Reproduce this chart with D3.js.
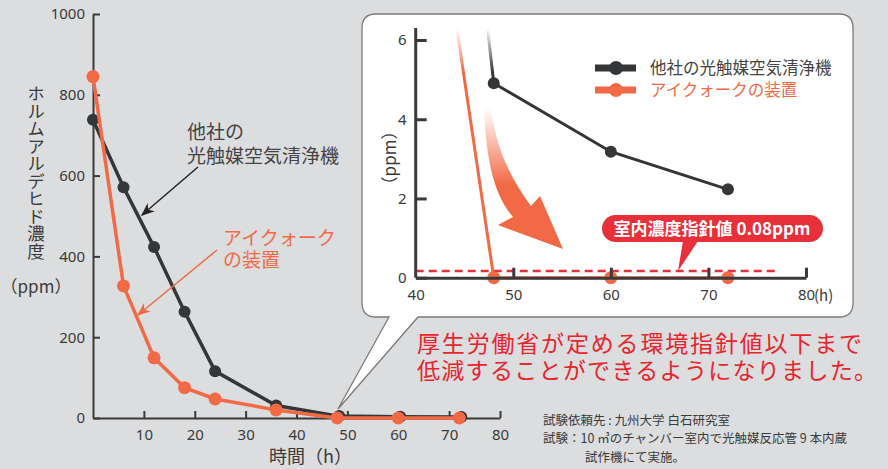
<!DOCTYPE html>
<html>
<head>
<meta charset="utf-8">
<script src="https://cdn.jsdelivr.net/npm/d3@7"></script>
<style>
  body { margin: 0; background: #dcdddf; }
  svg { display: block; font-family: "Noto Sans CJK JP", "Noto Sans", sans-serif; }
</style>
</head>
<body>
<div id="chart"></div>
<script>
// data
const hours = [0, 6, 12, 18, 24, 36, 48, 60, 72];
const otherValues = [738, 571, 423, 263, 116, 31, 4.91, 3.18, 2.23];
const aiqValues = [845, 327, 149, 75, 47, 20, 0, 0, 0];
const seriesNames = ["他社の光触媒空気清浄機", "アイクォークの装置"];
const mainXTicks = [10, 20, 30, 40, 50, 60, 70, 80];
const mainYTicks = [0, 200, 400, 600, 800, 1000];
const insetXTicks = [40, 50, 60, 70, 80];
const insetYTicks = [0, 2, 4, 6];
const guideLevel = 0.17;   // where the dashed line sits in the picture
const guideLabel = "室内濃度指針値 0.08ppm";
const headline = ["厚生労働省が定める環境指針値以下まで", "低減することができるようになりました。"];
const notes = ["試験依頼先 : 九州大学 白石研究室", "試験：10 ㎥のチャンバー室内で光触媒反応管 9 本内蔵", "試作機にて実施。"];

const width = 888, height = 469;
const darkColor = "#353638", orangeColor = "#f26a45", redColor = "#e8303a", textColor = "#3a3a3a";

const svg = d3.select("#chart").append("svg")
    .attr("width", width)
    .attr("height", height);

const defs = svg.append("defs");

const rows = hours.map((h, i) => ({ h: h, other: otherValues[i], aiq: aiqValues[i] }));

// callout box with tail (drawn first, behind the main lines)
const bx0 = 362, by0 = 14, bx1 = 853, by1 = 317, r = 14;
svg.append("path")
    .attr("d", `M${bx0 + r},${by0} H${bx1 - r} Q${bx1},${by0} ${bx1},${by0 + r} V${by1 - r} Q${bx1},${by1} ${bx1 - r},${by1}
        H418 L338,409 L389,${by1} H${bx0 + r} Q${bx0},${by1} ${bx0},${by1 - r} V${by0 + r} Q${bx0},${by0} ${bx0 + r},${by0} Z`)
    .attr("fill", "#fff")
    .attr("stroke", "#7a7a7a")
    .attr("stroke-width", 1.3);

// ---------- main chart ----------
const x = d3.scaleLinear().domain([0, 80]).range([93, 500]);
const y = d3.scaleLinear().domain([0, 1000]).range([418, 14]);

const xAxis = svg.append("g")
    .attr("transform", `translate(0,${y(0)})`)
    .call(d3.axisBottom(x).tickValues(mainXTicks).tickFormat(d3.format("d")).tickSize(-7).tickSizeOuter(0).tickPadding(11));
const yAxis = svg.append("g")
    .attr("transform", `translate(${x(0)},0)`)
    .call(d3.axisLeft(y).tickValues(mainYTicks).tickFormat(d3.format("d")).tickSize(-7).tickSizeOuter(0).tickPadding(8));
[xAxis, yAxis].forEach(g => {
    g.select(".domain").attr("stroke", textColor).attr("stroke-width", 2);
    g.selectAll(".tick line").attr("stroke", textColor).attr("stroke-width", 2);
    g.selectAll(".tick text").attr("fill", textColor).style("font-size", "15px").style("font-family", "'Noto Sans', sans-serif");
});

const mainLine = key => d3.line().x(d => x(d.h)).y(d => y(d[key]));

svg.append("path").datum(rows)
    .attr("fill", "none").attr("stroke", darkColor).attr("stroke-width", 3.5)
    .attr("d", mainLine("other"));
svg.selectAll(".dotOther").data(rows).enter().append("circle")
    .attr("cx", d => x(d.h) + (d.h >= 48 ? 2 : 0)).attr("cy", d => y(d.other)).attr("r", 6)
    .attr("fill", darkColor);

svg.append("path").datum(rows)
    .attr("fill", "none").attr("stroke", orangeColor).attr("stroke-width", 3.5)
    .attr("d", mainLine("aiq"));
svg.selectAll(".dotAiq").data(rows).enter().append("circle")
    .attr("cx", d => x(d.h)).attr("cy", d => y(d.aiq)).attr("r", 6.5)
    .attr("fill", orangeColor);

// axis titles
svg.append("text")
    .attr("x", 36).attr("y", 85)
    .style("writing-mode", "vertical-rl")
    .style("font-size", "17.5px")
    .attr("fill", textColor)
    .text("ホルムアルデヒド濃度");
svg.append("text")
    .attr("x", 36).attr("y", 293)
    .attr("text-anchor", "middle")
    .style("font-size", "17px")
    .attr("fill", textColor)
    .text("（ppm）");
svg.append("text")
    .attr("x", 269).attr("y", 463)
    .style("font-size", "18px")
    .attr("fill", textColor)
    .text("時間（h）");

// series labels with arrows
defs.append("marker").attr("id", "arrDark").attr("viewBox", "0 0 10 10").attr("refX", 9).attr("refY", 5)
    .attr("markerWidth", 9).attr("markerHeight", 9).attr("orient", "auto")
    .append("path").attr("d", "M0,1 L10,5 L0,9 L3,5 Z").attr("fill", "#222");
defs.append("marker").attr("id", "arrOrange").attr("viewBox", "0 0 10 10").attr("refX", 9).attr("refY", 5)
    .attr("markerWidth", 9).attr("markerHeight", 9).attr("orient", "auto")
    .append("path").attr("d", "M0,1 L10,5 L0,9 L3,5 Z").attr("fill", orangeColor);

svg.append("line").attr("x1", 198).attr("y1", 167).attr("x2", 142).attr("y2", 215)
    .attr("stroke", "#222").attr("stroke-width", 1.5).attr("marker-end", "url(#arrDark)");
svg.append("line").attr("x1", 217).attr("y1", 250).attr("x2", 138).attr("y2", 315)
    .attr("stroke", orangeColor).attr("stroke-width", 1.5).attr("marker-end", "url(#arrOrange)");

const darkLabel = svg.append("text").attr("fill", "#444").style("font-size", "19px");
darkLabel.append("tspan").attr("x", 187).attr("y", 139).text("他社の");
darkLabel.append("tspan").attr("x", 187).attr("y", 163).text("光触媒空気清浄機");
const orangeLabel = svg.append("text").attr("fill", orangeColor).style("font-size", "19px");
orangeLabel.append("tspan").attr("x", 223).attr("y", 245).text("アイクォーク");
orangeLabel.append("tspan").attr("x", 223).attr("y", 267).text("の装置");

// ---------- inset ----------
const xi = d3.scaleLinear().domain([40, 80]).range([415.7, 806]);
const yi = d3.scaleLinear().domain([0, 6]).range([277.7, 40]);

defs.append("clipPath").attr("id", "insetClip")
    .append("rect").attr("x", 416).attr("y", 28).attr("width", 400).attr("height", 270);
const fade = defs.append("linearGradient").attr("id", "fadeTop")
    .attr("gradientUnits", "userSpaceOnUse").attr("x1", 0).attr("x2", 0).attr("y1", 28).attr("y2", 72);
fade.append("stop").attr("offset", 0).attr("stop-color", "#fff").attr("stop-opacity", 0);
fade.append("stop").attr("offset", 1).attr("stop-color", "#fff").attr("stop-opacity", 1);
defs.append("mask").attr("id", "fadeMask").attr("maskUnits", "userSpaceOnUse")
    .attr("x", 0).attr("y", 0).attr("width", width).attr("height", height)
    .append("rect").attr("x", 0).attr("y", 28).attr("width", width).attr("height", 300).attr("fill", "url(#fadeTop)");

// big curved arrow
const arrowGrad = defs.append("linearGradient").attr("id", "arrowGrad")
    .attr("gradientUnits", "userSpaceOnUse").attr("x1", 0).attr("x2", 0).attr("y1", 108).attr("y2", 185);
arrowGrad.append("stop").attr("offset", 0).attr("stop-color", orangeColor).attr("stop-opacity", 0);
arrowGrad.append("stop").attr("offset", 1).attr("stop-color", orangeColor).attr("stop-opacity", 1);
svg.append("path")
    .attr("d", "M484,108 C486,160 494,195 513,217 L498,225 L563,249 L540,196 L531,206 C512,180 496,150 491,108 Z")
    .attr("fill", "url(#arrowGrad)");

// dashed guideline
svg.append("line")
    .attr("x1", xi(40)).attr("x2", 777)
    .attr("y1", yi(guideLevel)).attr("y2", yi(guideLevel))
    .attr("stroke", redColor).attr("stroke-width", 2.5).attr("stroke-dasharray", "8,5");

const insetLine = key => d3.line().x(d => xi(d.h)).y(d => yi(d[key]));
const insetG = svg.append("g").attr("clip-path", "url(#insetClip)");
const fadeG = insetG.append("g").attr("mask", "url(#fadeMask)");

// inset axes
const xiAxis = svg.append("g")
    .attr("transform", `translate(0,${yi(0)})`)
    .call(d3.axisBottom(xi).tickValues(insetXTicks).tickFormat(d3.format("d")).tickSize(-10).tickSizeOuter(0).tickPadding(12));
const yiAxis = svg.append("g")
    .attr("transform", `translate(${xi(40)},0)`)
    .call(d3.axisLeft(yi).tickValues(insetYTicks).tickFormat(d3.format("d")).tickSize(-11).tickSizeOuter(0).tickPadding(9));
[xiAxis, yiAxis].forEach(g => {
    g.select(".domain").attr("stroke", textColor).attr("stroke-width", 3);
    g.selectAll(".tick line").attr("stroke", textColor).attr("stroke-width", 3);
    g.selectAll(".tick text").attr("fill", textColor).style("font-size", "15px").style("font-family", "'Noto Sans', sans-serif");
});
yiAxis.select(".domain").attr("d", `M0,${yi(0)}V28`);
xiAxis.selectAll(".tick").filter(d => d === 40).select("line").remove();
svg.append("text")
    .attr("x", 814).attr("y", 301)
    .attr("text-anchor", "start")
    .style("font-size", "15px")
    .attr("fill", textColor)
    .text("(h)");
svg.append("text")
    .attr("transform", "translate(396,158) rotate(-90)")
    .attr("text-anchor", "middle")
    .style("font-size", "17px")
    .attr("fill", textColor)
    .text("（ppm）");

fadeG.append("path").datum(rows)
    .attr("fill", "none").attr("stroke", darkColor).attr("stroke-width", 3)
    .attr("d", insetLine("other"));
fadeG.append("path").datum(rows)
    .attr("fill", "none").attr("stroke", orangeColor).attr("stroke-width", 3)
    .attr("d", insetLine("aiq"));
insetG.selectAll(".idotOther").data(rows.filter(d => d.h >= 48)).enter().append("circle")
    .attr("cx", d => xi(d.h)).attr("cy", d => yi(d.other)).attr("r", 6)
    .attr("fill", darkColor);
insetG.selectAll(".idotAiq").data(rows.filter(d => d.h >= 48)).enter().append("circle")
    .attr("cx", d => xi(d.h)).attr("cy", d => yi(d.aiq)).attr("r", 6.5)
    .attr("fill", orangeColor);

// guideline pill label
svg.append("path")
    .attr("d", "M683,241 L678,271 L698,241 Z")
    .attr("fill", redColor);
svg.append("rect")
    .attr("x", 602).attr("y", 215).attr("width", 221).attr("height", 27).attr("rx", 13.5)
    .attr("fill", redColor);
svg.append("text")
    .attr("x", 712).attr("y", 235)
    .attr("text-anchor", "middle")
    .style("font-size", "17px").style("font-weight", "bold")
    .attr("fill", "#fff")
    .text(guideLabel);

// legend
const legend = svg.append("g").attr("transform", "translate(595,68)");
[darkColor, orangeColor].forEach((c, i) => {
    const row = legend.append("g").attr("transform", `translate(0,${i * 22})`);
    row.append("line").attr("x1", 0).attr("x2", 41).attr("stroke", c).attr("stroke-width", 7);
    row.append("circle").attr("cx", 21).attr("r", 7).attr("fill", c);
    row.append("text").attr("x", 55).attr("y", 6)
        .style("font-size", "16.5px")
        .attr("fill", i === 0 ? "#444" : orangeColor)
        .text(seriesNames[i]);
});

// headline
headline.forEach((t, i) => {
    svg.append("text")
        .attr("x", 417).attr("y", 352 + i * 27)
        .attr("textLength", i === 0 ? 445 : 460)
        .attr("lengthAdjust", "spacing")
        .style("font-size", "23px")
        .attr("fill", "#e8242d")
        .text(t);
});

// notes
const noteX = [543, 543, 585], noteY = [425, 443, 462];
notes.forEach((t, i) => {
    svg.append("text")
        .attr("x", noteX[i]).attr("y", noteY[i])
        .style("font-size", "12.5px")
        .attr("fill", textColor)
        .text(t);
});
</script>
</body>
</html>
